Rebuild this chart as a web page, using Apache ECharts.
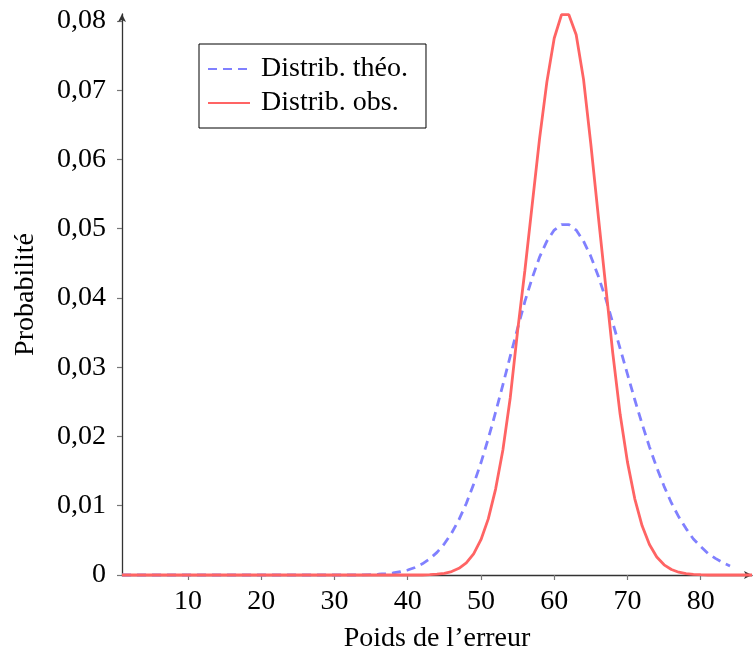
<!DOCTYPE html>
<html>
<head>
<meta charset="utf-8">
<script src="https://cdn.jsdelivr.net/npm/echarts@6/dist/echarts.min.js"></script>
<style>
  html, body { margin: 0; padding: 0; background: #ffffff; }
  #chart { width: 753px; height: 654px; }
</style>
</head>
<body>
<div id="chart"></div>
<script>
// Poids de l'erreur (abscisses)
const poids = [
  1, 2, 3, 4, 5, 6, 7, 8, 9, 10, 11, 12, 13, 14, 15, 16, 17, 18, 19, 20,
  21, 22, 23, 24, 25, 26, 27, 28, 29, 30, 31, 32, 33, 34, 35, 36, 37, 38, 39, 40,
  41, 42, 43, 44, 45, 46, 47, 48, 49, 50, 51, 52, 53, 54, 55, 56, 57, 58, 59, 60,
  61, 62, 63, 64, 65, 66, 67, 68, 69, 70, 71, 72, 73, 74, 75, 76, 77, 78, 79, 80,
  81, 82, 83, 84, 85, 86, 87
];

// Distribution théorique, poids 1 à 84
const distribTheo = [
  0, 0, 0, 0, 0, 0, 0, 0, 0, 0, 0, 0, 0, 0, 0, 0, 0, 0, 0, 0,
  0, 0, 0, 0, 0, 0, 0, 0, 0, 0, 0, 0, 0, 0.00002, 0.00006, 0.00011, 0.00018, 0.0003, 0.00047, 0.00072,
  0.00109, 0.00161, 0.00232, 0.00327, 0.0045, 0.00606, 0.008, 0.01033, 0.0131, 0.0162,
  0.0197, 0.0235, 0.0275, 0.0316, 0.0356, 0.0395, 0.0429, 0.0459, 0.0482, 0.0498,
  0.0506, 0.0506, 0.0498, 0.0482, 0.046, 0.0432, 0.04, 0.0364, 0.0327, 0.029,
  0.0253, 0.0218, 0.0185, 0.0155, 0.0128, 0.0104, 0.0084, 0.0067, 0.0052, 0.0041,
  0.0031, 0.0024, 0.0018, 0.0013
];

// Distribution observée, poids 1 à 87
const distribObs = [
  0, 0, 0, 0, 0, 0, 0, 0, 0, 0, 0, 0, 0, 0, 0, 0, 0, 0, 0, 0,
  0, 0, 0, 0, 0, 0, 0, 0, 0, 0, 0, 0, 0, 0, 0, 0, 0, 0, 0, 0,
  0, 0, 0.00005, 0.00012, 0.00025, 0.0005, 0.00097, 0.00175, 0.00305, 0.0051,
  0.0081, 0.0124, 0.0181, 0.0256, 0.0352, 0.044, 0.0535, 0.063, 0.0712, 0.0775,
  0.0809, 0.0809, 0.078, 0.0716, 0.0622, 0.052, 0.042, 0.032, 0.0232, 0.0163,
  0.011, 0.0071, 0.0044, 0.0026, 0.00147, 0.0008, 0.0004, 0.0002, 0.0001, 0.00004,
  0, 0, 0, 0, 0, 0, 0
];

const xTicks = [10, 20, 30, 40, 50, 60, 70, 80];
const yTicks = [0, 0.01, 0.02, 0.03, 0.04, 0.05, 0.06, 0.07, 0.08];
const yTickLabels = ['0', '0,01', '0,02', '0,03', '0,04', '0,05', '0,06', '0,07', '0,08'];

const seriesNames = ['Distrib. th\u00e9o.', 'Distrib. obs.'];

const pairs = (vals) => vals.map((v, i) => [poids[i], v]);

const FONT = '"Liberation Serif", "DejaVu Serif", serif';
const chart = echarts.init(document.getElementById('chart'), null, { renderer: 'canvas' });

chart.setOption({
  animation: false,
  backgroundColor: '#ffffff',
  grid: { left: 122, right: 1, top: 14, bottom: 79, containLabel: false, outerBoundsMode: 'none' },
  legend: {
    orient: 'vertical',
    left: 199,
    top: 44,
    padding: [11, 18, 11, 8],
    itemGap: 6,
    itemWidth: 42,
    itemHeight: 14,
    borderColor: '#000000',
    borderWidth: 1,
    borderRadius: 0,
    itemStyle: { opacity: 0 },
    textStyle: { fontFamily: FONT, fontSize: 28, color: '#000000', padding: [0, 0, 0, 6] },
    data: seriesNames
  },
  xAxis: {
    type: 'value',
    min: 1,
    max: 87,
    name: 'Poids de l\u2019erreur',
    nameLocation: 'middle',
    nameGap: 50,
    nameTextStyle: { fontFamily: FONT, fontSize: 28, color: '#000000' },
    splitLine: { show: false },
    axisLine: {
      show: true,
      symbol: ['none', 'arrow'],
      symbolSize: [6, 8],
      lineStyle: { color: '#333333', width: 1.3 }
    },
    axisTick: {
      show: true,
      customValues: xTicks,
      length: 5,
      lineStyle: { color: '#777777', width: 1.2 }
    },
    axisLabel: {
      customValues: xTicks,
      margin: 13,
      fontFamily: FONT,
      fontSize: 28,
      color: '#000000'
    }
  },
  yAxis: {
    type: 'value',
    min: 0,
    max: 0.081,
    name: 'Probabilit\u00e9',
    nameLocation: 'middle',
    nameGap: 82,
    nameRotate: 90,
    nameTextStyle: { fontFamily: FONT, fontSize: 28, color: '#000000' },
    splitLine: { show: false },
    axisLine: {
      show: true,
      symbol: ['none', 'arrow'],
      symbolSize: [6, 8],
      lineStyle: { color: '#333333', width: 1.3 }
    },
    axisTick: {
      show: true,
      customValues: yTicks,
      length: 5,
      lineStyle: { color: '#777777', width: 1.2 }
    },
    axisLabel: {
      customValues: yTicks,
      margin: 16,
      fontFamily: FONT,
      fontSize: 28,
      color: '#000000',
      formatter: (v) => {
        const i = yTicks.findIndex((t) => Math.abs(t - v) < 1e-9);
        return i >= 0 ? yTickLabels[i] : '';
      }
    }
  },
  series: [
    {
      name: seriesNames[0],
      type: 'line',
      data: pairs(distribTheo),
      showSymbol: false,
      symbol: 'none',
      smooth: false,
      clip: false,
      z: 3,
      lineStyle: { color: '#8080ff', width: 2.8, type: [9, 6] },
      itemStyle: { color: '#8080ff' }
    },
    {
      name: seriesNames[1],
      type: 'line',
      data: pairs(distribObs),
      showSymbol: false,
      symbol: 'none',
      smooth: false,
      clip: false,
      z: 4,
      lineStyle: { color: '#ff6464', width: 2.8 },
      itemStyle: { color: '#ff6464' }
    }
  ]
});
</script>
</body>
</html>
